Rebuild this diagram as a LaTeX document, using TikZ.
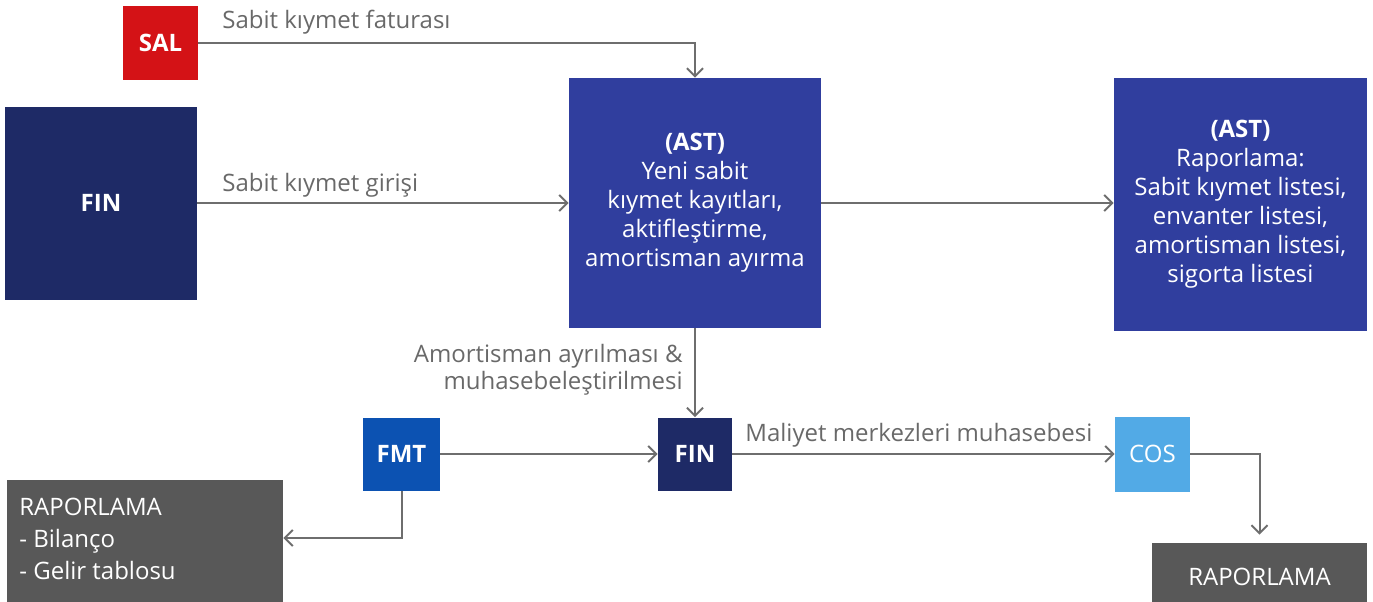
\documentclass[tikz,border=0pt]{standalone}
\usepackage{fontspec}
\setmainfont{Open Sans}
\usetikzlibrary{arrows.meta}
\definecolor{salred}{RGB}{212,18,22}
\definecolor{finnavy}{RGB}{30,42,102}
\definecolor{astblue}{RGB}{48,62,158}
\definecolor{fmtblue}{RGB}{12,82,178}
\definecolor{cosblue}{RGB}{82,170,230}
\definecolor{rapgray}{RGB}{88,88,88}
\definecolor{linegray}{RGB}{110,110,110}
\definecolor{lblgray}{RGB}{105,105,105}
\begin{document}
\begin{tikzpicture}[x=0.5pt,y=-0.5pt,
  sysbox/.style={draw=none, inner sep=0pt, text=white, align=center,
    font=\fontsize{12}{14.5}\selectfont},
  conn/.style={draw=linegray, line width=1pt, -{Straight Barb[length=4pt,width=8pt,line width=1pt]}},
  lbl/.style={text=lblgray, inner sep=0pt, font=\fontsize{12}{13.5}\selectfont}]
\useasboundingbox (0,0) rectangle (1373,601);
% boxes
\node[sysbox, fill=salred, minimum width=37.5pt, minimum height=37pt] (sal) at (160.5,43) {\bfseries SAL};
\node[sysbox, fill=finnavy, minimum width=96pt, minimum height=96.5pt] (finbig) at (101,203) {\bfseries FIN};
\node[sysbox, fill=astblue, minimum width=126pt, minimum height=125pt] (ast1) at (695,203) {\bfseries (AST)\\Yeni sabit\\kıymet kayıtları,\\aktifleştirme,\\amortisman ayırma};
\node[sysbox, fill=astblue, minimum width=126.5pt, minimum height=126.5pt] (ast2) at (1240.5,204.5) {\bfseries (AST)\\Raporlama:\\Sabit kıymet listesi,\\envanter listesi,\\amortisman listesi,\\sigorta listesi};
\node[sysbox, fill=fmtblue, minimum width=38.5pt, minimum height=36.5pt] (fmt) at (401.5,454) {\bfseries FMT};
\node[sysbox, fill=finnavy, minimum width=37pt, minimum height=36.5pt] (fin2) at (695,454) {\bfseries FIN};
\node[sysbox, fill=cosblue, minimum width=37.5pt, minimum height=37.5pt] (cos) at (1152.5,454) {COS};
\node[sysbox, fill=rapgray, minimum width=138pt, minimum height=65.5pt] (rap1) at (145,545.5) {};
\node[sysbox, fill=rapgray, minimum width=107.5pt, minimum height=34pt] (rap2) at (1259.5,577) {RAPORLAMA};
\node[sysbox, align=left, anchor=north west, font=\fontsize{12}{16}\selectfont] (rap1txt) at (19,498) {RAPORLAMA\\- Bilanço\\- Gelir tablosu};
% connectors
\draw[conn] (sal.east) -| (ast1.north);
\draw[conn] (finbig.east) -- (ast1.west);
\draw[conn] (ast1.east) -- (ast2.west |- ast1.east);
\draw[conn] (ast1.south) -- (fin2.north);
\draw[conn] (fmt.east) -- (fin2.west);
\draw[conn] (fin2.east) -- (cos.west);
\draw[conn, shorten >=4pt] (cos.east) -| (rap2.north);
\draw[conn] (fmt.south) |- (rap1.east |- 0,538);
% labels
\node[lbl, anchor=base west] (l1) at (222,28) {Sabit kıymet faturası};
\node[lbl, anchor=base west] (l2) at (222,191) {Sabit kıymet girişi};
\node[lbl, anchor=base east, align=right] (l3) at (683,389) {Amortisman ayrılması \&\\muhasebeleştirilmesi};
\node[lbl, anchor=base west] (l4) at (745,441) {Maliyet merkezleri muhasebesi};
\end{tikzpicture}
\end{document}
